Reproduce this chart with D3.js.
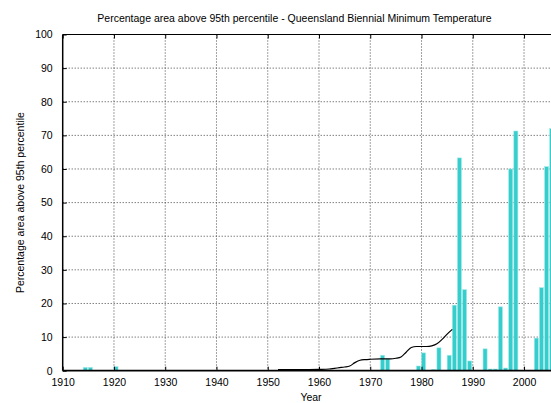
<!DOCTYPE html>
<html>
<head>
<meta charset="utf-8">
<script src="https://cdn.jsdelivr.net/npm/d3@7"></script>
<style>
  html, body { margin: 0; padding: 0; background: #fff; }
  svg { display: block; font-family: "Liberation Sans", Arial, Helvetica, sans-serif; }
</style>
</head>
<body>
<svg id="chart" width="551" height="403"></svg>
<script>
// Yearly percentage of Queensland's area above the 95th percentile
const years  = [1914, 1915, 1920, 1972, 1973, 1979, 1980, 1982, 1983, 1985, 1986, 1987, 1988, 1989,
                1992, 1993, 1994, 1995, 1996, 1997, 1998, 2002, 2003, 2004, 2005];
const values = [1.0, 1.0, 1.2, 4.6, 3.5, 1.4, 5.3, 0.4, 6.8, 4.6, 19.5, 63.3, 24.1, 2.9,
                6.5, 0.5, 0.5, 19.0, 0.8, 60.0, 71.3, 9.7, 24.7, 60.7, 72.0];

// Smoothed trend line
const trendYears  = [1952, 1955, 1958, 1960, 1962, 1963, 1964, 1965, 1966, 1967, 1968, 1969, 1970,
                     1972, 1974, 1975, 1976, 1977, 1978, 1979, 1980, 1981, 1982, 1983, 1984, 1985, 1986];
const trendValues = [0.3, 0.3, 0.35, 0.4, 0.5, 0.7, 0.9, 1.1, 1.4, 2.4, 3.1, 3.3, 3.4,
                     3.5, 3.5, 3.7, 4.1, 5.5, 6.9, 7.2, 7.2, 7.2, 7.4, 8.0, 9.3, 10.9, 12.3];

const xTicks = [1910, 1920, 1930, 1940, 1950, 1960, 1970, 1980, 1990, 2000];
const yTicks = [0, 10, 20, 30, 40, 50, 60, 70, 80, 90, 100];

const titleText = "Percentage area above 95th percentile - Queensland Biennial Minimum Temperature";
const xTitle = "Year";
const yTitle = "Percentage area above 95th percentile";

const W = 551, H = 403;
const plotLeft = 62.7, plotTop = 34.5, plotBottom = 370.7;

const x = d3.scaleLinear().domain([1910, 2010]).range([plotLeft, plotLeft + 512.6]);
const y = d3.scaleLinear().domain([0, 100]).range([plotBottom, plotTop]);

const svg = d3.select("#chart");

// dotted grid
const grid = svg.append("g");
grid.selectAll("line.gy").data(yTicks.filter(v => v > 0 && v < 100)).join("line")
  .attr("x1", plotLeft).attr("x2", W).attr("y1", d => y(d)).attr("y2", d => y(d))
  .attr("stroke", "#444").attr("stroke-width", 1).attr("stroke-dasharray", "1,2");
grid.selectAll("line.gx").data(xTicks.filter(v => v > 1910)).join("line")
  .attr("x1", d => x(d)).attr("x2", d => x(d)).attr("y1", plotTop).attr("y2", plotBottom)
  .attr("stroke", "#444").attr("stroke-width", 1).attr("stroke-dasharray", "1,2");

// bars
svg.append("g").selectAll("rect").data(years).join("rect")
  .attr("x", (d) => x(d))
  .attr("width", (d) => x(d + 0.8) - x(d))
  .attr("y", (d, i) => y(values[i]))
  .attr("height", (d, i) => y(0) - y(values[i]))
  .attr("fill", "#36cdcd")
  .attr("stroke", "#a8eaea")
  .attr("stroke-width", 0.6);

// trend line
const line = d3.line().x(d => x(d[0])).y(d => y(d[1])).curve(d3.curveMonotoneX);
svg.append("path")
  .datum(trendYears.map((t, i) => [t, trendValues[i]]))
  .attr("d", line)
  .attr("fill", "none").attr("stroke", "#000").attr("stroke-width", 1.2);

// frame
svg.append("line").attr("x1", plotLeft).attr("x2", W).attr("y1", plotTop).attr("y2", plotTop)
  .attr("stroke", "#000").attr("stroke-width", 1.2);
svg.append("line").attr("x1", plotLeft).attr("x2", W).attr("y1", plotBottom).attr("y2", plotBottom)
  .attr("stroke", "#000").attr("stroke-width", 1.8);
svg.append("line").attr("x1", plotLeft).attr("x2", plotLeft).attr("y1", plotTop).attr("y2", plotBottom)
  .attr("stroke", "#000").attr("stroke-width", 1.5);

// axes
const xAxis = d3.axisBottom(x).tickValues(xTicks).tickFormat(d3.format("d")).tickSize(-4).tickPadding(8);
const gx = svg.append("g").attr("transform", `translate(0,${plotBottom})`).call(xAxis);
gx.select(".domain").remove();
gx.selectAll("text").attr("font-size", 10.5).attr("fill", "#000");
gx.selectAll(".tick line").attr("stroke", "#000");
gx.attr("font-family", null);

const gxTop = svg.append("g").attr("transform", `translate(0,${plotTop})`)
  .call(d3.axisTop(x).tickValues(xTicks).tickSize(-4).tickFormat(""));
gxTop.select(".domain").remove();
gxTop.selectAll(".tick line").attr("stroke", "#000");

const yAxis = d3.axisLeft(y).tickValues(yTicks).tickSize(-4).tickPadding(10);
const gy = svg.append("g").attr("transform", `translate(${plotLeft},0)`).call(yAxis);
gy.select(".domain").remove();
gy.selectAll("text").attr("font-size", 10.5).attr("fill", "#000");
gy.selectAll(".tick line").attr("stroke", "#000");
gy.attr("font-family", null);

// titles
svg.append("text").attr("x", 294.5).attr("y", 22).attr("text-anchor", "middle")
  .attr("font-size", 10.5).text(titleText);
svg.append("text").attr("x", 311).attr("y", 401).attr("text-anchor", "middle")
  .attr("font-size", 10.5).text(xTitle);
svg.append("text").attr("transform", `translate(24,${(plotTop + plotBottom) / 2}) rotate(-90)`)
  .attr("text-anchor", "middle").attr("font-size", 10.5).text(yTitle);
</script>
</body>
</html>
